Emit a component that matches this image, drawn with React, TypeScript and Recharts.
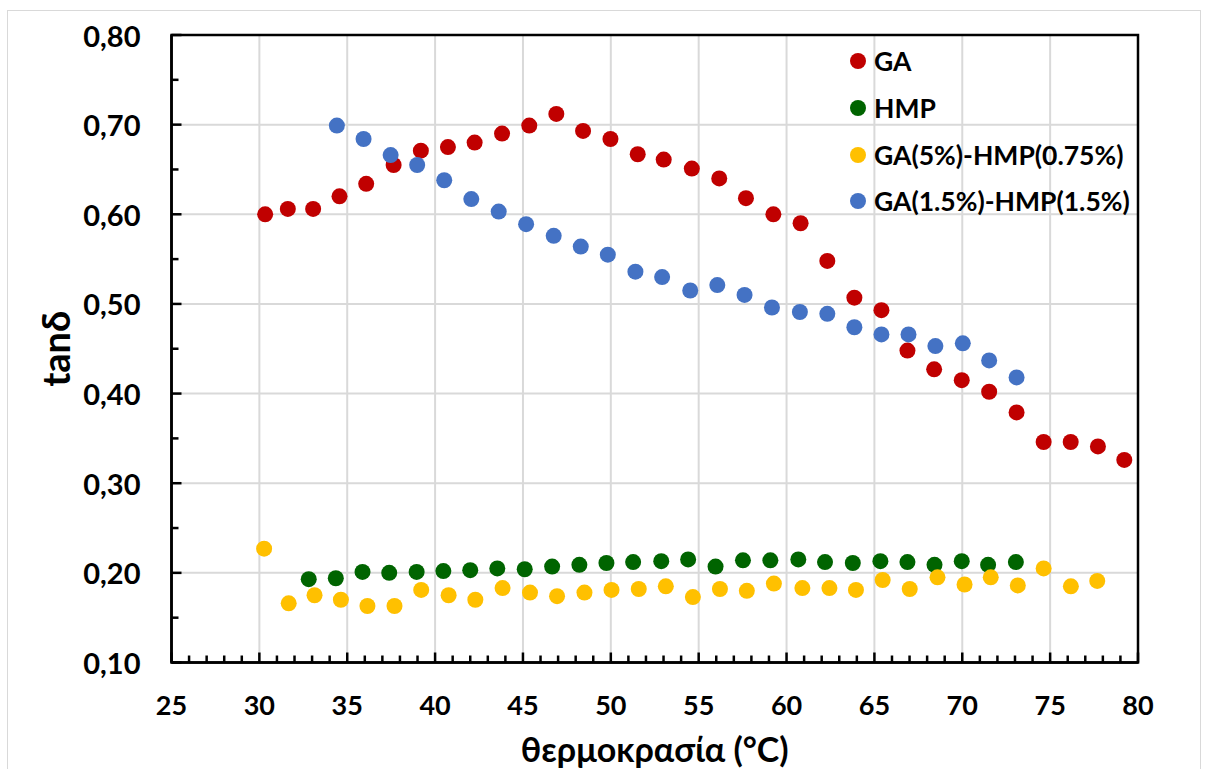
import { ScatterChart, Scatter, XAxis, YAxis, CartesianGrid, ReferenceArea, Legend } from "recharts";

const gaTemp = [30.33, 31.62, 33.06, 34.56, 36.08, 37.64, 39.19, 40.73, 42.25, 43.81, 45.36, 46.9, 48.42, 49.98, 51.53, 53.01, 54.61, 56.17, 57.69, 59.25, 60.8, 62.32, 63.86, 65.4, 66.88, 68.4, 69.97, 71.53, 73.09, 74.63, 76.17, 77.72, 79.22];
const gaTand = [0.6, 0.606, 0.606, 0.62, 0.634, 0.655, 0.671, 0.675, 0.68, 0.69, 0.699, 0.712, 0.693, 0.684, 0.667, 0.661, 0.651, 0.64, 0.618, 0.6, 0.59, 0.548, 0.507, 0.493, 0.448, 0.427, 0.415, 0.402, 0.379, 0.346, 0.346, 0.341, 0.326];

const hmpTemp = [32.81, 34.35, 35.87, 37.39, 38.95, 40.47, 42.0, 43.54, 45.1, 46.66, 48.21, 49.75, 51.27, 52.87, 54.4, 55.96, 57.52, 59.08, 60.67, 62.19, 63.77, 65.34, 66.88, 68.42, 69.97, 71.47, 73.05];
const hmpTand = [0.193, 0.194, 0.201, 0.2, 0.201, 0.202, 0.203, 0.205, 0.204, 0.207, 0.209, 0.211, 0.212, 0.213, 0.215, 0.207, 0.214, 0.214, 0.215, 0.212, 0.211, 0.213, 0.212, 0.209, 0.213, 0.209, 0.212];

const mix1Temp = [30.27, 31.67, 33.14, 34.64, 36.15, 37.69, 39.21, 40.77, 42.29, 43.84, 45.4, 46.94, 48.5, 50.04, 51.59, 53.13, 54.67, 56.21, 57.74, 59.28, 60.9, 62.44, 63.95, 65.47, 67.01, 68.59, 70.13, 71.62, 73.16, 74.63, 76.18, 77.68];
const mix1Tand = [0.227, 0.166, 0.175, 0.17, 0.163, 0.163, 0.181, 0.175, 0.17, 0.183, 0.178, 0.174, 0.178, 0.181, 0.182, 0.185, 0.173, 0.182, 0.18, 0.188, 0.183, 0.183, 0.181, 0.192, 0.182, 0.195, 0.187, 0.195, 0.186, 0.205, 0.185, 0.191];

const mix2Temp = [34.41, 35.93, 37.47, 38.98, 40.52, 42.06, 43.62, 45.18, 46.75, 48.29, 49.83, 51.4, 52.92, 54.52, 56.06, 57.61, 59.17, 60.76, 62.32, 63.86, 65.4, 66.94, 68.47, 70.03, 71.53, 73.09];
const mix2Tand = [0.699, 0.684, 0.666, 0.655, 0.638, 0.617, 0.603, 0.589, 0.576, 0.564, 0.555, 0.536, 0.53, 0.515, 0.521, 0.51, 0.496, 0.491, 0.489, 0.474, 0.466, 0.466, 0.453, 0.456, 0.437, 0.418];

const seriesNames = ["GA", "HMP", "GA(5%)-HMP(0.75%)", "GA(1.5%)-HMP(1.5%)"];
const seriesColors = ["#C00000", "#006400", "#FFC000", "#4472C4"];

const xMajor = [25, 30, 35, 40, 45, 50, 55, 60, 65, 70, 75, 80];
const yMajor = [0.1, 0.2, 0.3, 0.4, 0.5, 0.6, 0.7, 0.8];

// minor ticks: every 1 °C and every 0.05
const xTicks: number[] = [];
for (let v = 25; v <= 80; v++) xTicks.push(v);
const yTicks: number[] = [];
for (let i = 2; i <= 16; i++) yTicks.push(i * 0.05);

const FONT = "Lato, 'Open Sans', sans-serif";

const pts = (xs: number[], ys: number[]) => xs.map((x, i) => ({ x, y: ys[i] }));

const dot = (color: string) => (p: any) => <circle cx={p.cx} cy={p.cy} r={8} fill={color} />;

function XTick({ x, y, payload }: any) {
  const v = payload.value;
  const major = v % 5 === 0;
  return (
    <g>
      <line x1={x} x2={x} y1={y} y2={y - (major ? 10 : 7)} stroke="#000" strokeWidth={2.5} />
      {major && (
        <text x={x} y={y + 42} textAnchor="middle" dominantBaseline="central" fontFamily={FONT} fontWeight={700} fontSize={27} fill="#000">
          {v}
        </text>
      )}
    </g>
  );
}

function YTick({ x, y, payload }: any) {
  const v = payload.value;
  const major = Math.round(v * 100) % 10 === 0;
  return (
    <g>
      <line x1={x} x2={x + (major ? 10 : 7)} y1={y} y2={y} stroke="#000" strokeWidth={2.5} />
      {major && (
        <text x={x - 31} y={y} textAnchor="end" dominantBaseline="central" fontFamily={FONT} fontWeight={700} fontSize={29} fill="#000">
          {v.toFixed(2).replace(".", ",")}
        </text>
      )}
    </g>
  );
}

function LegendBox() {
  return (
    <div>
      {seriesNames.map((name, i) => (
        <div key={name} style={{ display: "flex", alignItems: "center", height: 46.7 }}>
          <svg width={16} height={16} style={{ marginRight: 8 }}>
            <circle cx={8} cy={8} r={8} fill={seriesColors[i]} />
          </svg>
          <span style={{ fontFamily: FONT, fontWeight: 700, fontSize: 26.5, color: "#000", whiteSpace: "nowrap" }}>{name}</span>
        </div>
      ))}
    </div>
  );
}

export default function App() {
  return (
    <div style={{ position: "absolute", left: 0, top: 0, width: 1205, height: 769, background: "#fff" }}>
      <div
        style={{
          position: "absolute",
          left: 7,
          top: 10,
          width: 1192,
          height: 758,
          border: "1px solid #d9d9d9",
          borderBottom: "none",
        }}
      />
      <div style={{ position: "absolute", left: 0, top: 0 }}>
        <ScatterChart width={1205} height={769} margin={{ top: 35, right: 67, bottom: 26.5, left: 71.5 }}>
          <CartesianGrid
            stroke="#d9d9d9"
            strokeWidth={2}
            horizontalValues={yMajor}
            verticalValues={xMajor}
          />
          <XAxis
            type="number"
            dataKey="x"
            domain={[25, 80]}
            ticks={xTicks}
            interval={0}
            allowDataOverflow
            height={80}
            tickSize={0}
            tickMargin={0}
            tickLine={false}
            axisLine={{ stroke: "#000", strokeWidth: 2.5 }}
            tick={<XTick />}
            label={{
              value: "θερμοκρασία (°C)",
              position: "insideBottom",
              offset: -19,
              style: { fontFamily: FONT, fontWeight: 700, fontSize: 34, fill: "#000" },
            }}
          />
          <YAxis
            type="number"
            dataKey="y"
            domain={[0.1, 0.8]}
            ticks={yTicks}
            interval={0}
            allowDataOverflow
            width={100}
            tickSize={0}
            tickMargin={0}
            tickLine={false}
            axisLine={{ stroke: "#000", strokeWidth: 2.5 }}
            tick={<YTick />}
            label={{
              value: "tanδ",
              angle: -90,
              position: "insideLeft",
              offset: -15,
              style: { fontFamily: FONT, fontWeight: 700, fontSize: 38, fill: "#000", textAnchor: "middle" },
            }}
          />
          <ReferenceArea x1={25} x2={80} y1={0.1} y2={0.8} fill="none" stroke="#000" strokeWidth={2.5} />
          <Legend
            layout="horizontal"
            verticalAlign="middle"
            align="center"
            content={<LegendBox />}
            wrapperStyle={{ position: "absolute", left: 850, top: 38, width: 320 }}
          />
          <Scatter name={seriesNames[0]} data={pts(gaTemp, gaTand)} fill={seriesColors[0]} shape={dot(seriesColors[0])} isAnimationActive={false} />
          <Scatter name={seriesNames[1]} data={pts(hmpTemp, hmpTand)} fill={seriesColors[1]} shape={dot(seriesColors[1])} isAnimationActive={false} />
          <Scatter name={seriesNames[2]} data={pts(mix1Temp, mix1Tand)} fill={seriesColors[2]} shape={dot(seriesColors[2])} isAnimationActive={false} />
          <Scatter name={seriesNames[3]} data={pts(mix2Temp, mix2Tand)} fill={seriesColors[3]} shape={dot(seriesColors[3])} isAnimationActive={false} />
        </ScatterChart>
      </div>
    </div>
  );
}
